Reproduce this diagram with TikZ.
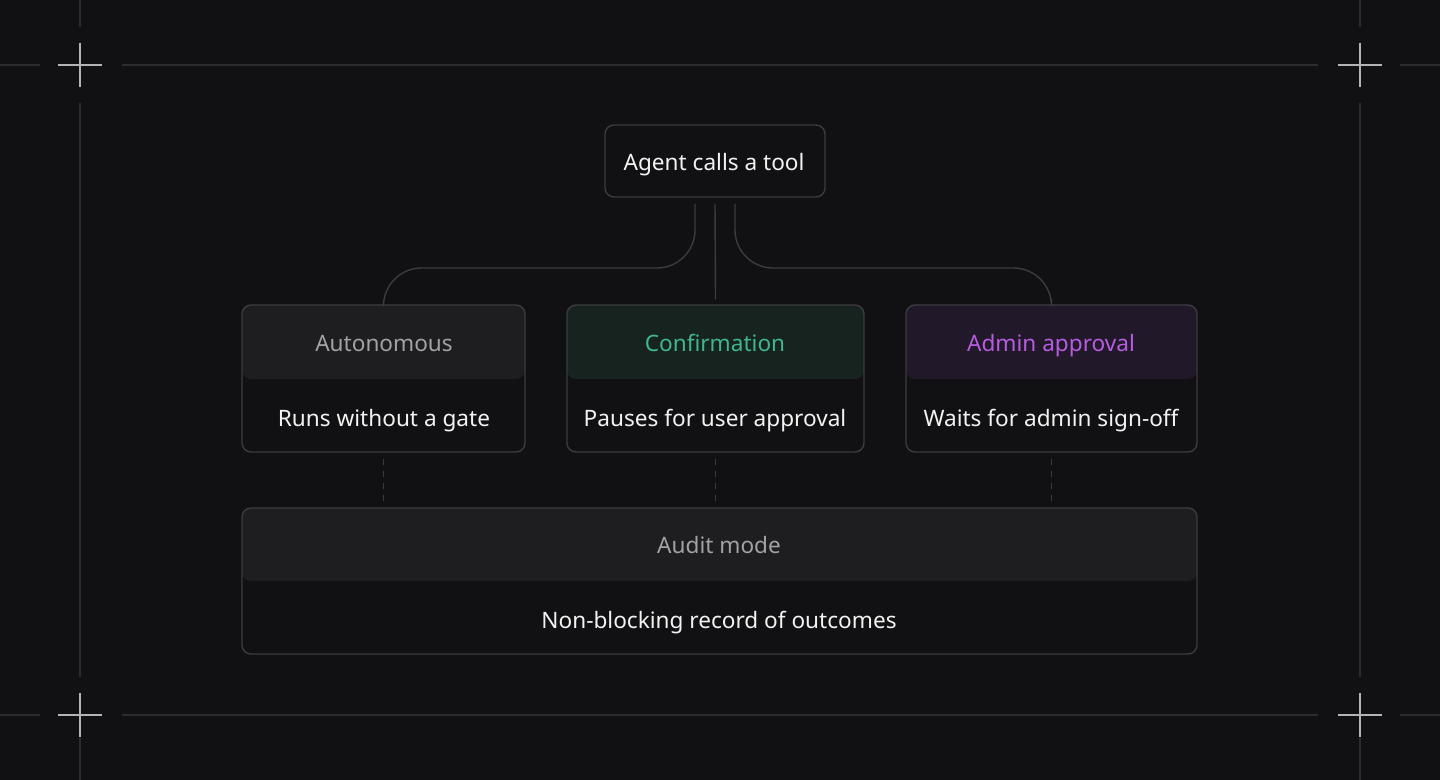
\documentclass[tikz,border=0pt]{standalone}
\usepackage{fontspec}
\setmainfont{Noto Sans}
\usetikzlibrary{calc}
\definecolor{bgc}{HTML}{111113}
\definecolor{guide}{HTML}{2C2C2F}
\definecolor{cross}{HTML}{B4B4B6}
\definecolor{edge}{HTML}{3C3C40}
\definecolor{headgrey}{HTML}{1E1E20}
\definecolor{headgreen}{HTML}{17231F}
\definecolor{headpurple}{HTML}{21192A}
\definecolor{txtgrey}{HTML}{A2A2A6}
\definecolor{txtgreen}{HTML}{3FB68C}
\definecolor{txtpurple}{HTML}{B65CE0}
\definecolor{txtwhite}{HTML}{F2F2F2}
\tikzset{
  card/.style={draw=edge, line width=0.7pt, fill=bgc, rounded corners=4.5pt, inner sep=0pt},
  head/.style={font=\fontsize{11.3}{13}\selectfont, text height=8pt, text depth=2.5pt},
  body/.style={font=\fontsize{11.3}{13}\selectfont, text=txtwhite, text height=8pt, text depth=2.5pt},
  link/.style={draw=edge, line width=0.7pt},
  gate/.style={draw=edge, line width=0.6pt, dash pattern=on 3pt off 3pt},
}
\begin{document}
\begin{tikzpicture}[x=0.5pt,y=-0.5pt]
		\fill[bgc] (0,0) rectangle (1440,780);
		\useasboundingbox (0,0) rectangle (1440,780);
		% guides and corner marks
		\foreach \y in {65,715} {
		\draw[guide, line width=0.8pt] (0,\y) -- (40,\y) (122,\y) -- (1318,\y) (1400,\y) -- (1440,\y);
		}
		\foreach \x in {80,1360} {
		\draw[guide, line width=0.8pt] (\x,0) -- (\x,27) (\x,103) -- (\x,677) (\x,738) -- (\x,780);
		}
		\foreach \x in {80,1360}
		\foreach \y in {65,715}
		\draw[cross, line width=0.9pt] (\x-22,\y) -- (\x+22,\y) (\x,\y-22) -- (\x,\y+22);
		% top node
		\node[card, minimum width=110pt, minimum height=36pt, body] (agent) at (715,161) {};
		% mode cards
		\node[card, minimum width=141.5pt, minimum height=73.5pt,
		  path picture={\fill[headgrey] (path picture bounding box.north west) rectangle ([yshift=-37pt]path picture bounding box.north east);}] (auto) at (383.5,378.5) {};
		\node[card, minimum width=148.5pt, minimum height=73.5pt,
		  path picture={\fill[headgreen] (path picture bounding box.north west) rectangle ([yshift=-37pt]path picture bounding box.north east);}] (confirm) at (715.5,378.5) {};
		\node[card, minimum width=145.5pt, minimum height=73.5pt,
		  path picture={\fill[headpurple] (path picture bounding box.north west) rectangle ([yshift=-37pt]path picture bounding box.north east);}] (admin) at (1051.5,378.5) {};
		\node[card, minimum width=477.5pt, minimum height=73pt,
		  path picture={\fill[headgrey] (path picture bounding box.north west) rectangle ([yshift=-36.5pt]path picture bounding box.north east);}] (audit) at (719.5,581) {};
		% labels
		\node[body] (agentlabel) at (714,165) {Agent calls a tool};
		\node[head, text=txtgrey] (autohead) at (384,346) {Autonomous};
		\node[body] (autobody) at (384,421) {Runs without a gate};
		\node[head, text=txtgreen] (confirmhead) at (715,346) {Confirmation};
		\node[body] (confirmbody) at (715,421) {Pauses for user approval};
		\node[head, text=txtpurple] (adminhead) at (1051,346) {Admin approval};
		\node[body] (adminbody) at (1051,421) {Waits for admin sign-off};
		\node[head, text=txtgrey] (audithead) at (719,548) {Audit mode};
		\node[body] (auditbody) at (719,623) {Non-blocking record of outcomes};
		% branches
		\coordinate (split) at (715,268);
		\coordinate (lfork) at ($(agent.south)+(-20,6)$);
		\coordinate (rfork) at ($(agent.south)+(20,6)$);
		\draw[link, rounded corners=19pt] (lfork) -- (lfork |- split) -- (auto.north |- split) -- ($(auto.north)+(0,-5)$);
		\draw[link] ($(agent.south)+(0,6)$) -- ($(confirm.north)+(0,-5)$);
		\draw[link, rounded corners=19pt] (rfork) -- (rfork |- split) -- (admin.north |- split) -- ($(admin.north)+(0,-5)$);
		% audit ties
		\foreach \n in {auto,confirm,admin}
		\draw[gate] ($(\n.south)+(0,6)$) -- ($(\n.south |- audit.north)+(0,-6)$);
\end{tikzpicture}
\end{document}
